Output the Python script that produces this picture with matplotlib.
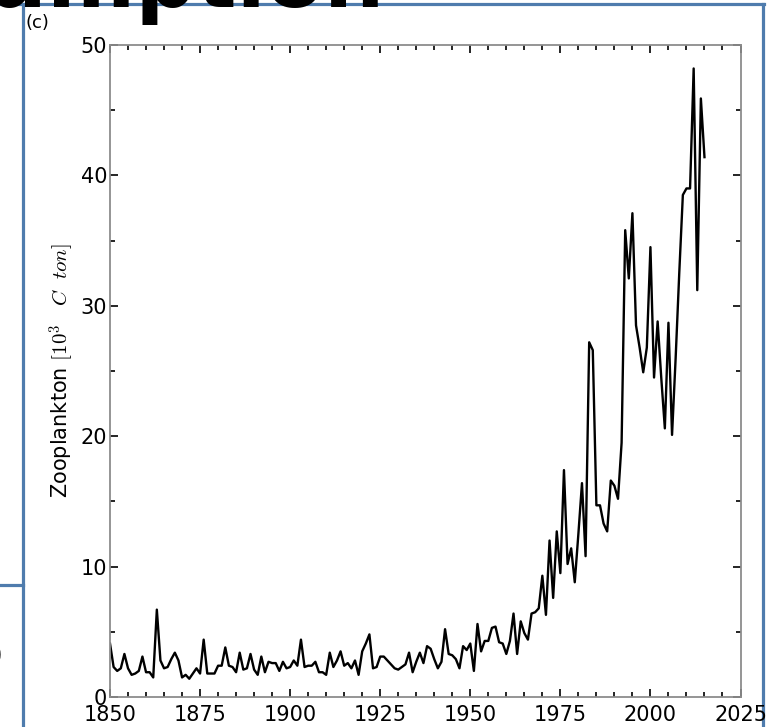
import matplotlib

matplotlib.use("Agg")
import matplotlib.pyplot as plt
from matplotlib.lines import Line2D
from matplotlib.ticker import MultipleLocator

FIG_W, FIG_H = 769, 727

START_YEAR = 1850
ZOOPLANKTON = [
    4.1, 2.3, 2.0, 2.2, 3.3, 2.2, 1.7, 1.8, 2.0, 3.1,
    1.9, 1.9, 1.5, 6.7, 2.8, 2.2, 2.3, 2.9, 3.4, 2.8,
    1.5, 1.7, 1.4, 1.8, 2.2, 1.8, 4.4, 1.8, 1.8, 1.8,
    2.4, 2.4, 3.8, 2.4, 2.3, 1.9, 3.4, 2.1, 2.2, 3.3,
    2.1, 1.7, 3.1, 1.9, 2.7, 2.6, 2.6, 2.0, 2.7, 2.2,
    2.3, 2.8, 2.4, 4.4, 2.3, 2.4, 2.4, 2.7, 1.9, 1.9,
    1.7, 3.4, 2.3, 2.8, 3.5, 2.4, 2.6, 2.2, 2.8, 1.7,
    3.5, 4.1, 4.8, 2.2, 2.3, 3.1, 3.1, 2.8, 2.5, 2.2,
    2.1, 2.3, 2.5, 3.4, 1.9, 2.7, 3.4, 2.6, 3.9, 3.7,
    2.9, 2.2, 2.7, 5.2, 3.3, 3.2, 2.9, 2.2, 3.9, 3.6,
    4.1, 2.0, 5.6, 3.5, 4.3, 4.3, 5.3, 5.4, 4.2, 4.1,
    3.3, 4.3, 6.4, 3.3, 5.8, 4.9, 4.4, 6.4, 6.5, 6.8,
    9.3, 6.3, 12.0, 7.6, 12.7, 9.5, 17.4, 10.2, 11.4, 8.8,
    12.5, 16.4, 10.8, 27.2, 26.6, 14.7, 14.7, 13.3, 12.7, 16.6,
    16.2, 15.2, 19.5, 35.8, 32.1, 37.1, 28.5, 26.8, 24.9, 26.8,
    34.5, 24.5, 28.8, 24.5, 20.6, 28.7, 20.1, 26.0, 32.5, 38.5,
    39.0, 39.0, 48.2, 31.2, 45.9, 41.4,
]
YEARS = list(range(START_YEAR, START_YEAR + len(ZOOPLANKTON)))

X_TICKS = [1850, 1875, 1900, 1925, 1950, 1975, 2000, 2025]
Y_TICKS = [0, 10, 20, 30, 40, 50]

SLIDE_BLUE = "#4f7cad"
SPINE_GRAY = "#8c8c8c"


def px(x, y):
    # pixel position on the slide -> figure fraction
    return x / FIG_W, 1 - y / FIG_H


def slide_line(fig, x0, y0, x1, y1):
    (fx0, fy0), (fx1, fy1) = px(x0, y0), px(x1, y1)
    fig.add_artist(Line2D([fx0, fx1], [fy0, fy1], color=SLIDE_BLUE,
                          linewidth=2.3, transform=fig.transFigure, zorder=0))


def main():
    plt.rcParams.update({
        "font.family": "DejaVu Sans",
        "mathtext.fontset": "cm",
    })

    fig = plt.figure(figsize=(FIG_W / 100, FIG_H / 100), dpi=100)

    # bits of the surrounding slide
    slide_line(fig, 0, 4, 764, 4)
    slide_line(fig, 763, 4, 763, 727)
    slide_line(fig, 22.5, 4, 22.5, 727)
    slide_line(fig, 0, 585, 22.5, 585)
    fig.text(*px(385, 7), "Assumption", fontsize=61, fontweight="bold",
             ha="right", va="baseline", color="black")
    fig.text(*px(4, 668), "to", fontsize=36, ha="right", va="baseline")
    fig.text(*px(4, 735), "on", fontsize=36, ha="right", va="baseline")
    fig.text(*px(25, 23), "(c)", fontsize=13, ha="left", va="center")

    left, top = px(110, 45)
    right, bottom = px(740.5, 697)
    ax = fig.add_axes([left, bottom, right - left, top - bottom])

    ax.plot(YEARS, ZOOPLANKTON, color="black", linewidth=1.7)

    ax.set_xlim(1850, 2025)
    ax.set_ylim(0, 50)
    ax.set_xticks(X_TICKS)
    ax.set_yticks(Y_TICKS)
    ax.xaxis.set_minor_locator(MultipleLocator(5))
    ax.yaxis.set_minor_locator(MultipleLocator(5))
    ax.tick_params(which="both", direction="in", top=True, right=True,
                   labelsize=15, color="black", width=1.2)
    ax.tick_params(which="major", length=6)
    ax.tick_params(which="minor", length=3.5)
    ax.tick_params(axis="x", pad=6)
    ax.tick_params(axis="y", pad=2)
    for spine in ax.spines.values():
        spine.set_color(SPINE_GRAY)
        spine.set_linewidth(1.3)

    ax.set_ylabel("Zooplankton $[10^3\\quad C\\ \\ ton]$", fontsize=15)
    ax.yaxis.set_label_coords(-0.054, 0.5)

    fig.savefig("out.png", dpi=100)


if __name__ == "__main__":
    main()
